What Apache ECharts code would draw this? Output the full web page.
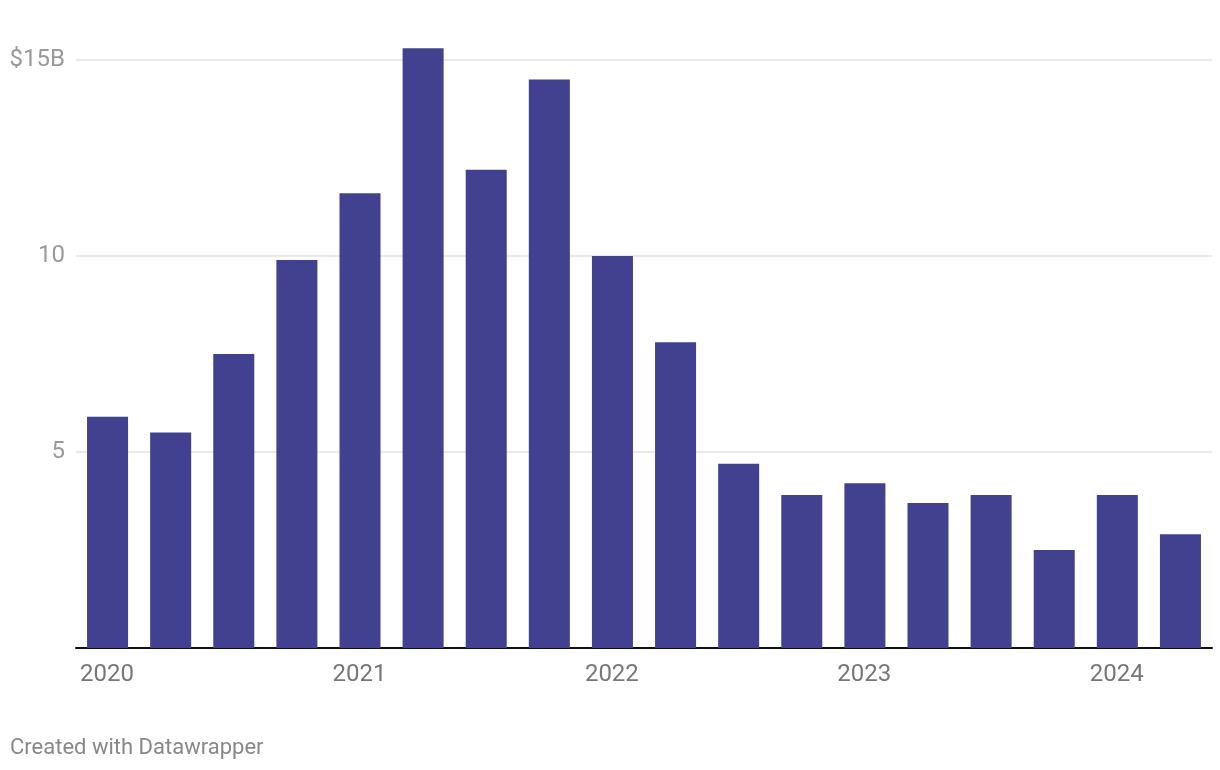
<!DOCTYPE html>
<html><head><meta charset="utf-8">
<script src="https://cdn.jsdelivr.net/npm/echarts@6/dist/echarts.min.js"></script>
<style>html,body{margin:0;padding:0;background:#fff}#c{width:1220px;height:770px}</style>
</head><body><div id="c"></div>
<script>
const quarters = ['2020 Q1','2020 Q2','2020 Q3','2020 Q4','2021 Q1','2021 Q2','2021 Q3','2021 Q4','2022 Q1','2022 Q2','2022 Q3','2022 Q4','2023 Q1','2023 Q2','2023 Q3','2023 Q4','2024 Q1','2024 Q2'];
const values = [5.9,5.5,7.5,9.9,11.6,15.3,12.2,14.5,10.0,7.8,4.7,3.9,4.2,3.7,3.9,2.5,3.9,2.9];
const yearLabels = ['2020','2021','2022','2023','2024'];
const yTicks = [0,5,10,15];

const chart = echarts.init(document.getElementById('c'));
chart.setOption({
  animation:false,
  grid:{left:76,right:8,top:60,bottom:122,containLabel:false},
  xAxis:[{
    type:'category',data:quarters,
    axisLine:{lineStyle:{color:'#111',width:2}},
    axisTick:{show:false},axisLabel:{show:false}
  },{
    type:'value',min:0,max:quarters.length,interval:4,position:'bottom',
    axisLine:{show:false},axisTick:{show:false},splitLine:{show:false},
    axisLabel:{
      align:'left',margin:15,padding:[0,0,0,4],color:'#777',fontFamily:'Roboto',fontSize:24,
      showMaxLabel:false,
      formatter:v=>{const i=v/4;return Number.isInteger(i)&&yearLabels[i]?yearLabels[i]:'';}
    }
  }],
  yAxis:{
    type:'value',min:0,max:15,interval:5,
    axisLine:{show:false},axisTick:{show:false},
    splitLine:{lineStyle:{color:'#e3e3e3',width:1.5}},
    axisLabel:{color:'#9a9a9a',fontFamily:'Roboto',fontSize:24,margin:11,padding:[2,0,0,0],
      formatter:v=>v===0?'':(v===15?'$15B':String(v))}
  },
  series:[{
    type:'bar',data:values,xAxisIndex:0,barCategoryGap:'35%',clip:false,
    itemStyle:{color:'#41418f'}
  }],
  graphic:[{type:'text',left:10,top:737,style:{text:'Created with Datawrapper',fill:'#888',font:'22px Roboto'}}]
});
</script></body></html>
